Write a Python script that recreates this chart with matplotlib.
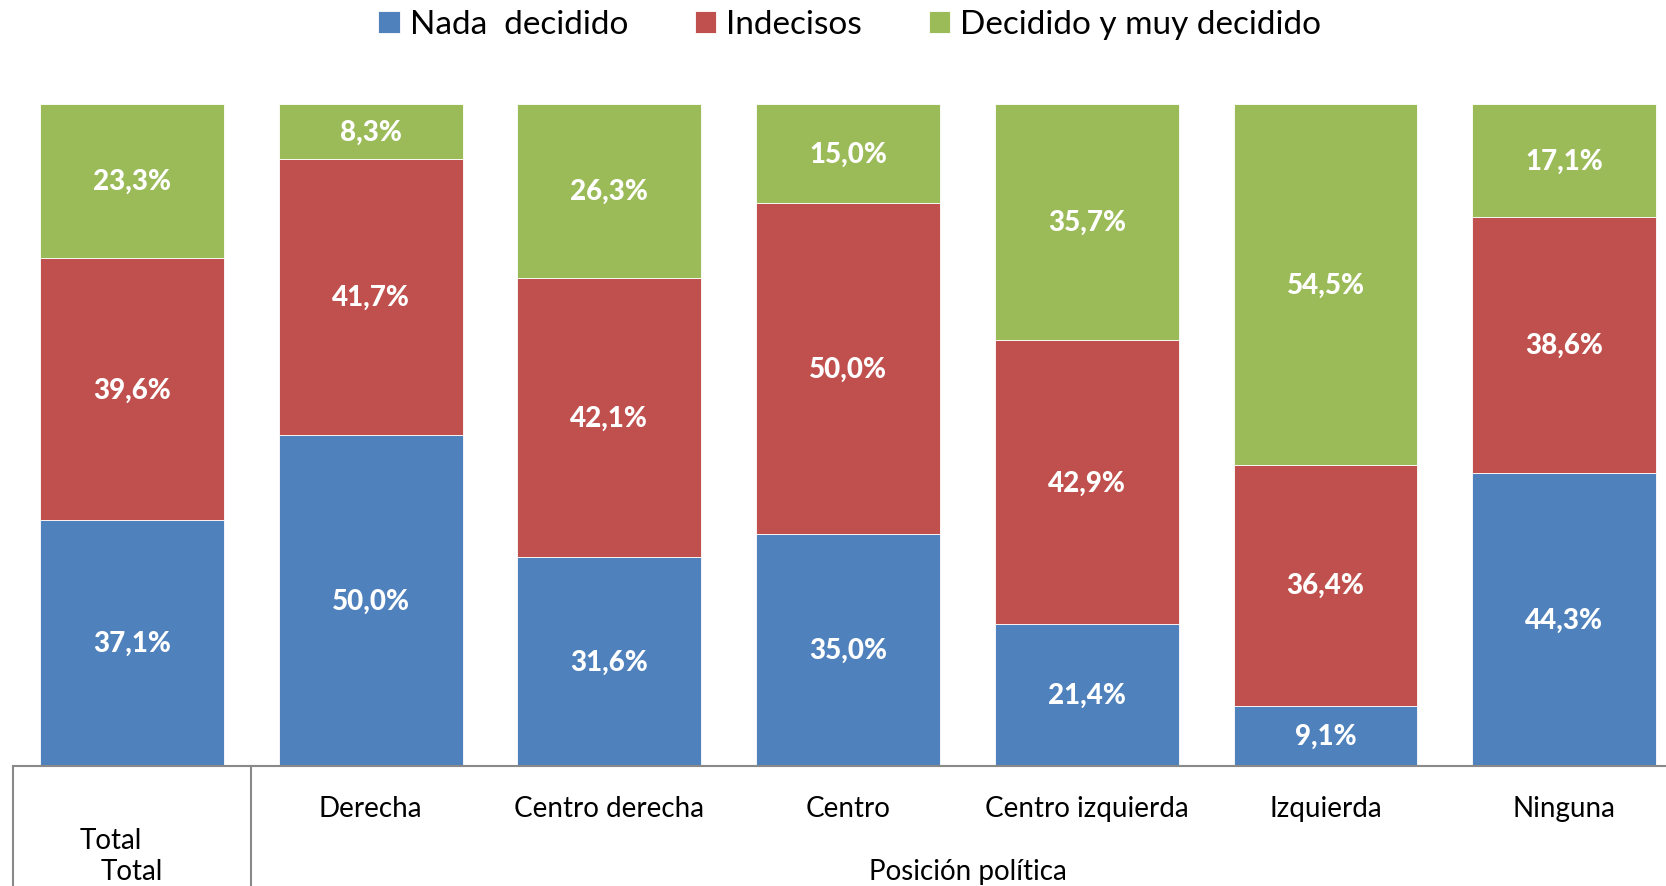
import numpy as np
import matplotlib
matplotlib.use('Agg')
import matplotlib.pyplot as plt

plt.rcParams['font.family'] = ['Lato', 'DejaVu Sans']

categories = ['Total', 'Derecha', 'Centro derecha', 'Centro',
              'Centro izquierda', 'Izquierda', 'Ninguna']
series_names = ['Nada  decidido', 'Indecisos', 'Decidido y muy decidido']
nada = [37.1, 50.0, 31.6, 35.0, 21.4, 9.1, 44.3]
indecisos = [39.6, 41.7, 42.1, 50.0, 42.9, 36.4, 38.6]
decidido = [23.3, 8.3, 26.3, 15.0, 35.7, 54.5, 17.1]
group_label = 'Posición política'

colors = ['#4F81BD', '#C0504D', '#9BBB59']

fig = plt.figure(figsize=(16.66, 8.87), dpi=100)
# axis spans category boundaries, right edge runs past the figure like the original
ax = fig.add_axes([12.6 / 1666, 120 / 887, 1671 / 1666, 662 / 887])

x = np.arange(len(categories))
bottom = np.zeros(len(categories))
handles = []
for vals, name, col in zip([nada, indecisos, decidido], series_names, colors):
    bars = ax.bar(x, vals, 0.77, bottom=bottom, color=col, label=name,
                  edgecolor='white', linewidth=0.6)
    ax.bar_label(bars, labels=[f'{v:.1f}%'.replace('.', ',') for v in vals],
                 label_type='center', color='white', fontsize=20, fontweight='black')
    handles.append(bars)
    bottom += np.array(vals)

ax.set_xlim(-0.5, 6.5)
ax.set_ylim(0, 100)
for s in ['top', 'right', 'left']:
    ax.spines[s].set_visible(False)
ax.spines['bottom'].set_color('#898989')
ax.spines['bottom'].set_linewidth(1.5)
ax.set_yticks([])
ax.set_xticks([])

# category table below the axis
trans = ax.get_xaxis_transform()
for xv in [-0.5, 0.5]:
    ax.plot([xv, xv], [0, -0.2], transform=trans, color='#898989', lw=1.5, clip_on=False)
for i in range(1, len(categories)):
    ax.text(x[i], -0.063, categories[i], transform=trans, ha='center', va='center', fontsize=20)
ax.text(-0.09, -0.112, categories[0], transform=trans, ha='center', va='center', fontsize=20)
ax.text(0.0, -0.158, categories[0], transform=trans, ha='center', va='center', fontsize=20)
ax.text(3.5, -0.158, group_label, transform=trans, ha='center', va='center', fontsize=20)

fig.legend(handles=handles, loc='upper center', bbox_to_anchor=(0.51, 1.022), ncol=3,
           frameon=False, fontsize=24, handlelength=0.65, handleheight=0.65,
           handletextpad=0.3, columnspacing=2.0)

fig.savefig('out.png', dpi=100)
